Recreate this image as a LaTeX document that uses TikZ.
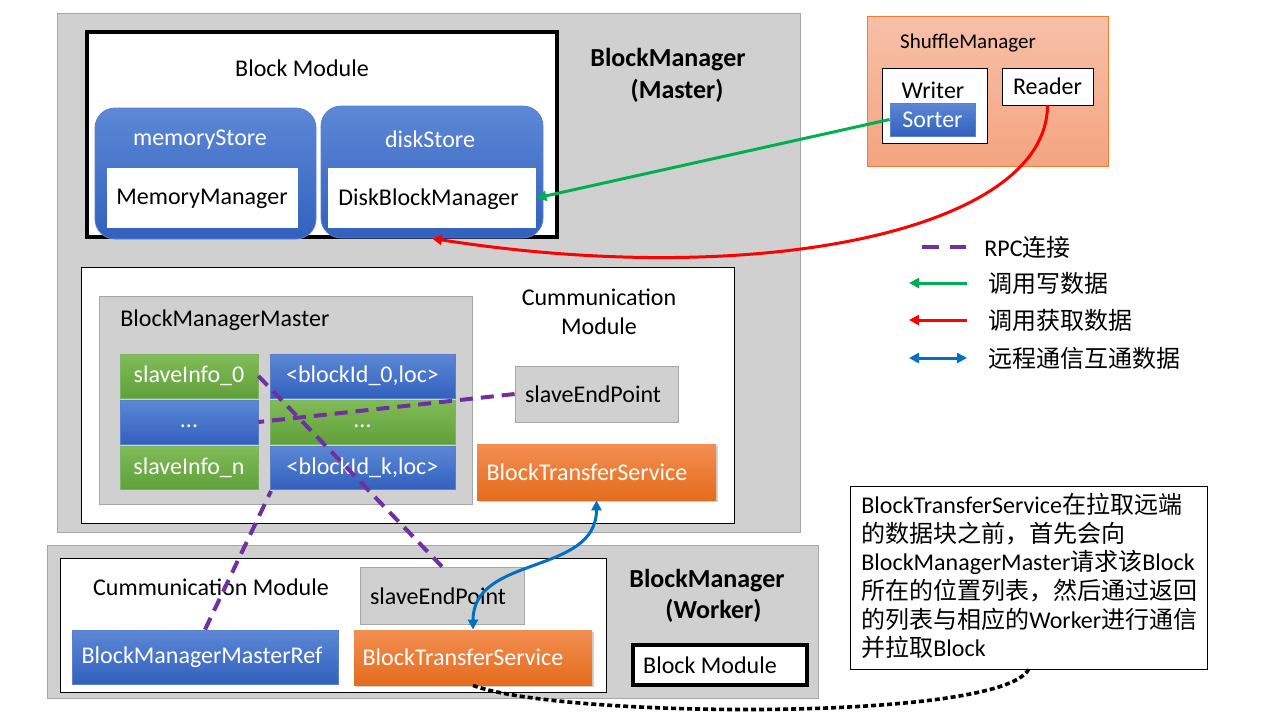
\documentclass[tikz,border=0pt]{standalone}
\usepackage{fontspec}
\setmainfont{Carlito}
\newfontfamily\cjk{Noto Sans CJK SC}
\usetikzlibrary{fit,arrows.meta,shadows}
\definecolor{blueT}{RGB}{93,136,214}
\definecolor{blueB}{RGB}{50,96,190}
\definecolor{greenT}{RGB}{128,188,88}
\definecolor{greenB}{RGB}{96,160,58}
\definecolor{orangeT}{RGB}{243,142,82}
\definecolor{orangeB}{RGB}{229,108,28}
\definecolor{shufT}{RGB}{247,192,168}
\definecolor{shufB}{RGB}{244,164,128}
\definecolor{shufD}{RGB}{237,125,49}
\definecolor{grayF}{RGB}{208,208,208}
\definecolor{grayD}{RGB}{166,166,166}
\definecolor{rpcC}{RGB}{112,48,160}
\definecolor{greenA}{RGB}{0,176,80}
\definecolor{redA}{RGB}{255,0,0}
\definecolor{blueA}{RGB}{0,112,192}
\tikzset{
  graybox/.style={draw=grayD, fill=grayF, inner sep=0pt},
  whitebox/.style={draw=black, fill=white, inner sep=0pt},
  plainwhite/.style={draw=none, fill=white, inner sep=0pt},
  thickbox/.style={draw=black, line width=1.6pt, fill=white, inner sep=0pt},
  bluegrad/.style={top color=blueT, bottom color=blueB, draw=blueB!80!white, inner sep=0pt, text=white},
  greengrad/.style={top color=greenT, bottom color=greenB, draw=greenB!80!white, inner sep=0pt, text=white},
  orangegrad/.style={top color=orangeT, bottom color=orangeB, draw=none, inner sep=0pt, text=white,
     drop shadow={opacity=0.35, shadow xshift=1.2pt, shadow yshift=-1.2pt}},
  shufbox/.style={top color=shufT, bottom color=shufB, draw=shufD, inner sep=0pt},
  txt/.style={inner sep=0pt, text=black},
  wtxt/.style={inner sep=0pt, text=white},
  rpc/.style={draw=rpcC, line width=2pt, dash pattern=on 6.5pt off 4pt},
  rpcleg/.style={draw=rpcC, line width=2pt, dash pattern=on 8.5pt off 5.5pt},
  greenarrow/.style={draw=greenA, line width=1.5pt, -{Triangle[width=5pt,length=5pt]}},
  redarrow/.style={draw=redA, line width=1.5pt, -{Triangle[width=5pt,length=5pt]}},
  bluearrow/.style={draw=blueA, line width=1.5pt, {Triangle[width=5pt,length=5pt]}-{Triangle[width=5pt,length=5pt]}},
  dotline/.style={draw=black, line width=1.8pt, dash pattern=on 2.5pt off 1.5pt},
  boldlbl/.style={txt, align=center, font=\fontsize{13}{16}\selectfont\bfseries},
}
\begin{document}
\begin{tikzpicture}[x=0.5pt,y=-0.5pt, font=\fontsize{12}{14}\selectfont]
\useasboundingbox (0,0) rectangle (1280,720);
\fill[white] (0,0) rectangle (1280,720);

% ===== Master BlockManager =====
\node[graybox, fit={(57,13)(800,532)}] (master) {};
\node[thickbox, fit={(87,32)(557,237)}] (blockmod) {};
\node[txt] (blockmodlbl) at (302,68) {Block Module};
\node[bluegrad, rounded corners=10pt, fit={(95,108)(316,239)}] (mem) {};
\node[wtxt] (memlbl) at (200,140) {memoryStore};
\node[plainwhite, fit={(107,168)(298,228)}] (memmgr) {};
\node[txt] (memmgrlbl) at (202,199) {MemoryManager};
\node[bluegrad, rounded corners=10pt, fit={(321,106)(543,238)}] (disk) {};
\node[wtxt] (disklbl) at (430,139) {diskStore};
\node[plainwhite, fit={(328,168)(536,228)}] (diskmgr) {};
\node[txt, anchor=west] (diskmgrlbl) at (338,199) {DiskBlockManager};
\node[boldlbl] (masterlbl) at (668,75) {BlockManager\\\hspace*{0.7em}(Master)};

% Communication module (master)
\node[whitebox, fit={(81,267)(734,523)}] (comm) {};
\node[txt, align=center, font=\fontsize{12}{14.5}\selectfont] (commlbl) at (599,312) {Cummunication\\Module};
\node[graybox, fit={(99,296)(472,504)}] (bmm) {};
\node[txt, anchor=west] (bmmlbl) at (120,320) {BlockManagerMaster};
\node[greengrad, fit={(120,354)(258,398)}] (c11) {};
\node[bluegrad, fit={(270,354)(455,398)}] (c12) {};
\node[bluegrad, fit={(120,400)(258,444)}] (c21) {};
\node[greengrad, fit={(270,400)(455,444)}] (c22) {};
\node[greengrad, fit={(120,446)(258,489)}] (c31) {};
\node[bluegrad, fit={(270,446)(455,489)}] (c32) {};
\node[wtxt] (c11lbl) at (c11.center) {slaveInfo\_0};
\node[wtxt] (c12lbl) at (c12.center) {<blockId\_0,loc>};
\node[wtxt] (c21lbl) at (c21.center) {\vphantom{Ip}...};
\node[wtxt] (c22lbl) at (c22.center) {\vphantom{Ip}...};
\node[wtxt] (c31lbl) at (c31.center) {slaveInfo\_n};
\node[wtxt] (c32lbl) at (c32.center) {<blockId\_k,loc>};
\node[graybox, fit={(515,366)(678,422)}] (sep) {};
\node[txt] (seplbl) at (593,394) {slaveEndPoint};
\node[orangegrad, fit={(477,444)(716,500)}] (bts) {};
\node[wtxt] (btslbl) at (587,472) {BlockTransferService};

% ===== Shuffle Manager =====
\node[shufbox, fit={(867,16)(1108,166)}] (shuffle) {};
\node[txt, font=\fontsize{10.5}{12}\selectfont] (shufflelbl) at (968,43) {ShuffleManager};
\node[whitebox, fit={(882,68)(987,143)}] (writer) {};
\node[txt] (writerlbl) at (933,90) {Writer};
\node[bluegrad, fit={(890,103)(975,136)}] (sorter) {};
\node[wtxt] (sorterlbl) at (sorter.center) {Sorter};
\node[whitebox, fit={(1002,68)(1093,105)}] (reader) {};
\node[txt] (readerlbl) at (reader.center) {Reader};

% ===== Worker BlockManager =====
\node[graybox, fit={(47,545)(818,698)}] (worker) {};
\node[whitebox, fit={(60,558)(606,692)}] (wcomm) {};
\node[txt] (wcommlbl) at (211,587) {Cummunication Module};
\node[graybox, fit={(360,567)(524,624)}] (wsep) {};
\node[txt] (wseplbl) at (438,596) {slaveEndPoint};
\node[bluegrad, fit={(72,630)(338,684)}] (bmmref) {};
\node[wtxt] (bmmreflbl) at (202,657) {BlockManagerMasterRef};
\node[orangegrad, fit={(354,630)(592,685)}] (wbts) {};
\node[wtxt] (wbtslbl) at (463,657) {BlockTransferService};
\node[boldlbl, font=\fontsize{13}{15.5}\selectfont\bfseries] (workerlbl) at (707,596) {BlockManager\\\hspace*{0.5em}(Worker)};
\node[thickbox, fit={(633,645)(807,685)}] (wblockmod) {};
\node[txt] (wblockmodlbl) at (710,665) {Block Module};

% ===== Callout =====
\node[whitebox, fit={(850,486)(1207,669)}] (callout) {};
\node[txt, anchor=north west, align=left, font=\fontsize{12}{14.3}\selectfont] (callouttxt) at (861,493)
 {BlockTransferService{\cjk 在拉取远端}\\
  {\cjk 的数据块之前，首先会向}\\
  BlockManagerMaster{\cjk 请求该}Block\\
  {\cjk 所在的位置列表，然后通过返回}\\
  {\cjk 的列表与相应的}Worker{\cjk 进行通信}\\
  {\cjk 并拉取}Block};

% ===== Connectors =====
\coordinate (bmmlink) at (271,491);
\draw[rpc] (sep.west) -- (c21.east);
\draw[rpc] (c11.east) -- (wsep.north);
\draw[rpc] (bmmref.north) -- (bmmlink);
\draw[greenarrow] (sorter.west) -- (diskmgr.east);
\draw[redarrow] (reader.south) .. controls (1047,230) and (760,290) .. (disk.south);
\draw[bluearrow] (bts.south) .. controls +(0,75) and +(0,-75) .. (wbts.north);
\draw[dotline] (wbts.south) .. controls (560,718) and (1000,722) .. (callout.south);

% ===== Legend =====
\coordinate (l1a) at (922,247); \coordinate (l1b) at (966,247);
\coordinate (l2a) at (909,283); \coordinate (l2b) at (967,283);
\coordinate (l3a) at (909,320); \coordinate (l3b) at (967,320);
\coordinate (l4a) at (909,358); \coordinate (l4b) at (967,358);
\draw[rpcleg] (l1a) -- (l1b);
\draw[greenarrow] (l2b) -- (l2a);
\draw[redarrow] (l3b) -- (l3a);
\draw[bluearrow] (l4a) -- (l4b);
\node[txt, anchor=west] (leg1) at (984,247) {RPC{\cjk 连接}};
\node[txt, anchor=west] (leg2) at (988,283) {\cjk 调用写数据};
\node[txt, anchor=west] (leg3) at (988,320) {\cjk 调用获取数据};
\node[txt, anchor=west] (leg4) at (988,358) {\cjk 远程通信互通数据};
\end{tikzpicture}
\end{document}
